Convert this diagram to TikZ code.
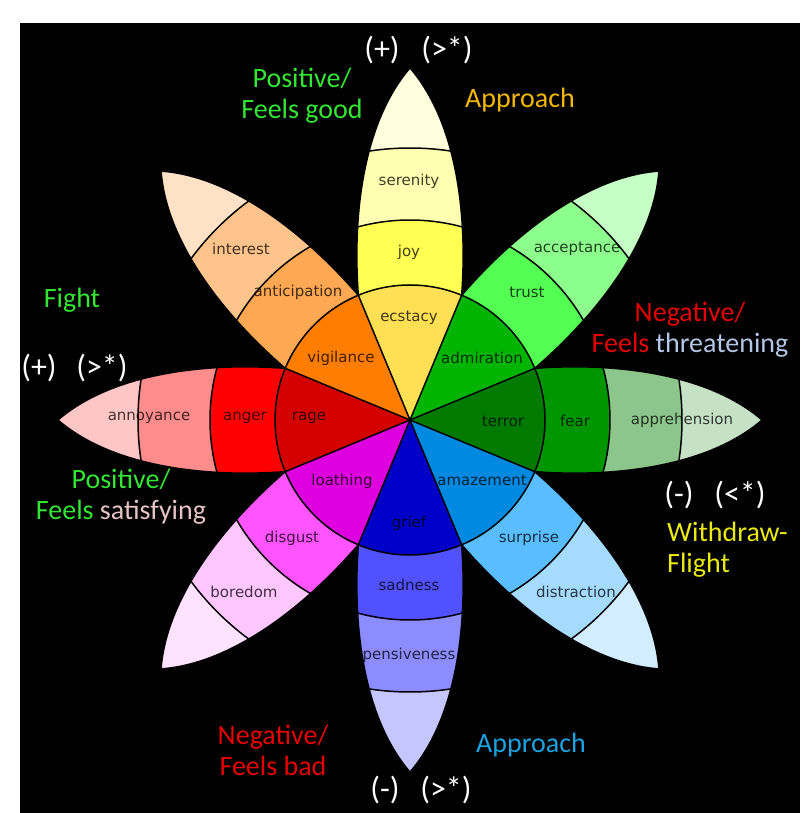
\documentclass[tikz,border=0pt]{standalone}
\usepackage{fontspec}
\setmainfont{Carlito}
\newfontfamily\wheelfont{DejaVu Sans}
\usetikzlibrary{positioning}
% petal colours: A = centre, B, C, D = tip
\definecolor{joyA}{HTML}{FFE054}
\definecolor{joyB}{HTML}{FFFF54}
\definecolor{joyC}{HTML}{FFFFB1}
\definecolor{joyD}{HTML}{FFFFDE}
\definecolor{trustA}{HTML}{00B400}
\definecolor{trustB}{HTML}{54FF54}
\definecolor{trustC}{HTML}{8CFF8C}
\definecolor{trustD}{HTML}{C6FFC6}
\definecolor{fearA}{HTML}{007A00}
\definecolor{fearB}{HTML}{009600}
\definecolor{fearC}{HTML}{8CC68C}
\definecolor{fearD}{HTML}{C6E2C6}
\definecolor{surpriseA}{HTML}{0089E0}
\definecolor{surpriseB}{HTML}{59BDFF}
\definecolor{surpriseC}{HTML}{A5DBFF}
\definecolor{surpriseD}{HTML}{D2EDFF}
\definecolor{sadnessA}{HTML}{0000C8}
\definecolor{sadnessB}{HTML}{5151FF}
\definecolor{sadnessC}{HTML}{8C8CFF}
\definecolor{sadnessD}{HTML}{C6C6FF}
\definecolor{disgustA}{HTML}{DE00DE}
\definecolor{disgustB}{HTML}{FF54FF}
\definecolor{disgustC}{HTML}{FFC6FF}
\definecolor{disgustD}{HTML}{FFE2FF}
\definecolor{angerA}{HTML}{D40000}
\definecolor{angerB}{HTML}{FF0000}
\definecolor{angerC}{HTML}{FF8C8C}
\definecolor{angerD}{HTML}{FFC6C6}
\definecolor{anticipationA}{HTML}{FF7D00}
\definecolor{anticipationB}{HTML}{FFA854}
\definecolor{anticipationC}{HTML}{FFC48C}
\definecolor{anticipationD}{HTML}{FFE2C6}
% side texts
\definecolor{posgreen}{HTML}{33E633}
\definecolor{neg}{HTML}{E60000}
\definecolor{gold}{HTML}{F2B705}
\definecolor{sky}{HTML}{1AA3E0}
\definecolor{flight}{HTML}{EAEA10}
\definecolor{threat}{HTML}{B4C6E7}
\definecolor{satisfy}{HTML}{E6C4C4}
\tikzset{
  petal line/.style={draw=black,line width=1.5pt},
  emotion/.style={font=\wheelfont\fontsize{15}{18}\selectfont,text=black,
    text opacity=0.75,inner sep=0pt},
  side tag/.style={font=\fontsize{28}{31}\selectfont,align=center,inner sep=0pt},
  sign tag/.style={font=\fontsize{32}{34}\selectfont,text=white,inner sep=0pt},
}

\begin{document}
\begin{tikzpicture}[x=1pt,y=1pt]
    \useasboundingbox (-410,-393) rectangle (399,420);
    \fill[white] (-410,-393) rectangle (399,420);
    \fill[black] (-390,-393) rectangle (390,397);
    % petals
    \foreach \ang/\name in {90/joy,45/trust,0/fear,-45/surprise,-90/sadness,-135/disgust,180/anger,135/anticipation}
    {
      \begin{scope}[rotate=\ang]
        \begin{scope}
          \clip (22.5:135) .. controls (210,58) and (300,45) .. (352,0) .. controls (300,-45) and (210,-58) .. (-22.5:135) -- cycle;
          \fill[\name D] (0,0) circle (360);
          \fill[\name C] (0,0) circle (272);
          \fill[\name B] (0,0) circle (200);
          \draw[petal line] (-40:200) arc (-40:40:200);
          \draw[petal line] (-40:272) arc (-40:40:272);
        \end{scope}
        \fill[\name A] (0,0) -- (-22.5:135) arc (-22.5:22.5:135) -- cycle;
        \draw[petal line] (-22.5:135) .. controls (210,-58) and (300,-45) .. (352,0) .. controls (300,45) and (210,58) .. (22.5:135);
      \end{scope}
    }
    \draw[petal line] (0,0) circle (135);
    \foreach \k in {0,...,7} \draw[petal line] (0,0) -- (22.5+45*\k:135);
    % emotion names
    \foreach \t/\p in {serenity/{-1,239},joy/{-1,168},ecstacy/{-1,102},vigilance/{-69,62},
      admiration/{72,62},rage/{-101,2},terror/{93,-1},fear/{165,-1},apprehension/{272,0},
      anger/{-165,2},annoyance/{-261,2},loathing/{-68,-61},amazement/{72,-60},grief/{-1,-103},
      sadness/{-1,-165},pensiveness/{-1,-235},surprise/{119,-118},distraction/{166,-172},
      disgust/{-118,-118},boredom/{-166,-172},interest/{-169,171},anticipation/{-112,128},
      trust/{117,128},acceptance/{167,171}}
      \node[emotion] (\t) at (\p) {\t};
    % side texts
    \node[sign tag] (topplus) at (-28,370) {(+)};
    \node[sign tag] (topmore) at (37,370) {(>*)};
    \node[side tag,text=posgreen] (feelsgood) at (-108,324) {Positive/\\Feels good};
    \node[side tag,text=gold] (approachtop) at (110,320) {Approach};
    \node[side tag,text=posgreen] (fight) at (-338,120) {Fight};
    \node[sign tag] (leftplus) at (-371,52) {(+)};
    \node[sign tag] (leftmore) at (-308,52) {(>*)};
    \node[side tag,text=posgreen] (satisfying) at (-289,-77) {Positive/\\Feels \textcolor{satisfy}{satisfying}};
    \node[side tag,text=neg] (threatening) at (280,90) {Negative/\\Feels \textcolor{threat}{threatening}};
    \node[sign tag] (rightminus) at (269,-75) {(-)};
    \node[sign tag] (rightless) at (330,-75) {(<*)};
    \node[side tag,text=flight,align=left,anchor=west] (withdraw) at (257,-130) {Withdraw-\\Flight};
    \node[side tag,text=neg] (feelsbad) at (-137,-330) {Negative/\\Feels bad};
    \node[side tag,text=sky] (approachlow) at (121,-325) {Approach};
    \node[sign tag] (lowminus) at (-25,-370) {(-)};
    \node[sign tag] (lowmore) at (36,-370) {(>*)};
  \end{tikzpicture}
\end{document}
